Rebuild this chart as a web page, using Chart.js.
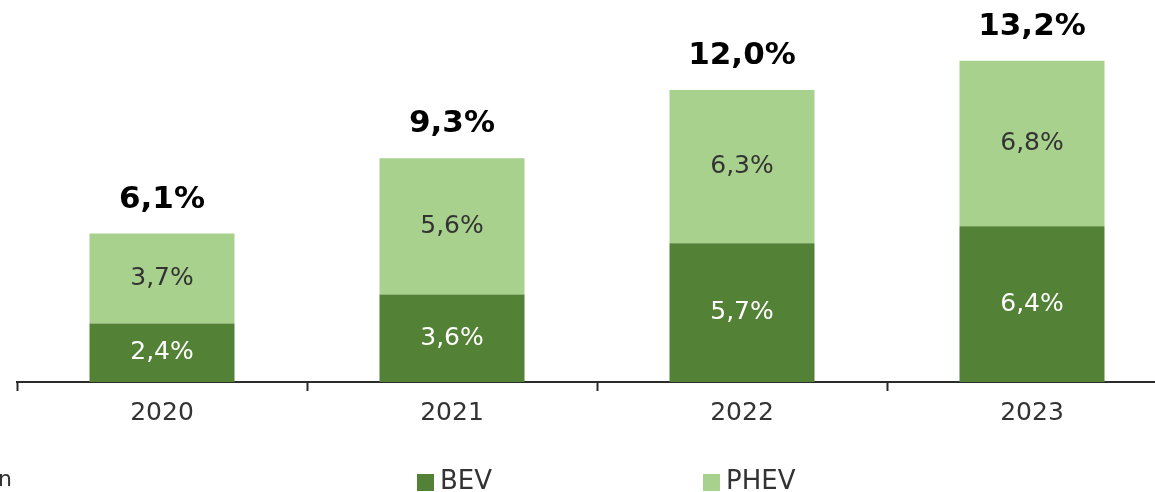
<!DOCTYPE html>
<html lang="de">
<head>
    <meta charset="UTF-8">
    <title>BEV / PHEV</title>
    <script src="https://cdn.jsdelivr.net/npm/chart.js"></script>
    <style>
        body { margin: 0; background: white; overflow: hidden; }
        #wrap { width: 1155px; height: 492px; overflow: hidden; position: relative; }
        #box { width: 1180px; height: 492px; }
    </style>
</head>
<body>
    <div id="wrap"><div id="box"><canvas id="evChart"></canvas></div></div>

    <script>
        var years = ["2020", "2021", "2022", "2023"];
        var bev = [2.4, 3.6, 5.7, 6.4];
        var phev = [3.7, 5.6, 6.3, 6.8];
        var totals = [6.1, 9.3, 12.0, 13.2];

        var fmt = function (v) { return v.toFixed(1).replace('.', ',') + '%'; };
        var FONT = '"DejaVu Sans", sans-serif';

        // labels inside the bars and the totals on top
        var valueLabels = {
            id: 'valueLabels',
            afterDatasetsDraw: function (chart) {
                var ctx = chart.ctx;
                ctx.save();
                ctx.textAlign = 'center';
                ctx.textBaseline = 'middle';
                chart.data.datasets.forEach(function (ds, i) {
                    var meta = chart.getDatasetMeta(i);
                    ctx.fillStyle = i === 0 ? '#ffffff' : '#333333';
                    ctx.font = '25px ' + FONT;
                    meta.data.forEach(function (bar, j) {
                        var mid = (bar.y + bar.base) / 2;
                        ctx.fillText(fmt(ds.data[j]), bar.x, mid);
                    });
                });
                var top = chart.getDatasetMeta(1);
                ctx.fillStyle = '#000000';
                ctx.font = 'bold 31px ' + FONT;
                top.data.forEach(function (bar, j) {
                    ctx.fillText(fmt(totals[j]), bar.x, bar.y - 34);
                });
                ctx.restore();
            }
        };

        // legend at the bottom, items spread wide as in the original
        var bottomLegend = {
            id: 'bottomLegend',
            afterDraw: function (chart) {
                var ctx = chart.ctx;
                var spots = [417, 703];
                ctx.save();
                ctx.textBaseline = 'middle';
                ctx.textAlign = 'left';
                ctx.font = '26px ' + FONT;
                chart.data.datasets.forEach(function (ds, i) {
                    ctx.fillStyle = ds.backgroundColor;
                    ctx.fillRect(spots[i], 474, 17, 17);
                    ctx.fillStyle = '#333333';
                    ctx.fillText(ds.label, spots[i] + 23, 482);
                });
                ctx.font = '22px ' + FONT;
                ctx.fillText('n', -2, 480);
                ctx.restore();
            }
        };

        var ctx = document.getElementById('evChart').getContext('2d');
        var evChart = new Chart(ctx, {
            type: 'bar',
            data: {
                labels: years,
                datasets: [
                    { label: 'BEV', data: bev, backgroundColor: '#538135', stack: 's' },
                    { label: 'PHEV', data: phev, backgroundColor: '#a9d18e', stack: 's' }
                ]
            },
            options: {
                responsive: true,
                maintainAspectRatio: false,
                animation: false,
                layout: { padding: { left: 17, right: 3, top: 0, bottom: 0 } },
                datasets: { bar: { categoryPercentage: 1.0, barPercentage: 0.5 } },
                plugins: {
                    legend: { display: false },
                    tooltip: { enabled: false }
                },
                scales: {
                    x: {
                        stacked: true,
                        border: { display: true, color: '#2b2b2b', width: 2 },
                        grid: {
                            offset: true,
                            drawOnChartArea: false,
                            drawTicks: true,
                            tickLength: 9,
                            color: '#2b2b2b',
                            tickWidth: 2
                        },
                        ticks: {
                            color: '#333333',
                            padding: 7,
                            font: { family: 'DejaVu Sans', size: 25 }
                        },
                        afterFit: function (scale) { scale.height = 110; }
                    },
                    y: {
                        stacked: true,
                        display: false,
                        min: 0,
                        max: 15.7
                    }
                }
            },
            plugins: [valueLabels, bottomLegend]
        });
    </script>
</body>
</html>
